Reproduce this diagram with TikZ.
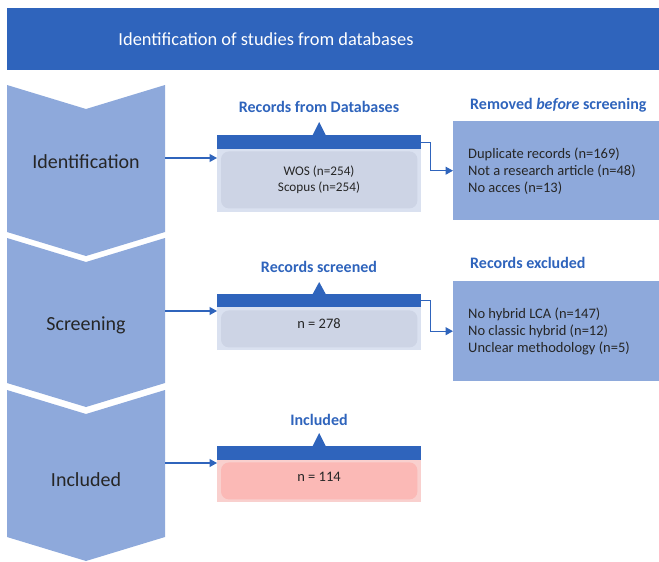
\documentclass[tikz,border=0pt]{standalone}
\usepackage{fontspec}
\setmainfont{Carlito}
\usetikzlibrary{arrows.meta}

\definecolor{darkblue}{HTML}{2F64BC}
\definecolor{chev}{HTML}{8EA9DB}
\definecolor{framebg}{HTML}{DAE1F0}
\definecolor{innerbg}{HTML}{CDD4E5}
\definecolor{pinkframe}{HTML}{F9D0CE}
\definecolor{pinkinner}{HTML}{FBB9B6}
\definecolor{ink}{HTML}{262626}

\tikzset{
  stagelabel/.style={minimum width=158pt, inner sep=0pt, text=ink,
    font=\fontsize{20}{23}\selectfont},
  outerframe/.style={fill=framebg, minimum width=204pt, inner sep=0pt, anchor=north west},
  topbar/.style={fill=darkblue, minimum width=204pt, minimum height=14pt, inner sep=0pt, anchor=north},
  heading/.style={text=darkblue, font=\fontsize{16}{19}\selectfont\bfseries, inner sep=0pt},
  boxtext/.style={text=ink, font=\fontsize{13.2}{16}\selectfont, align=center, inner sep=0pt},
  sidebox/.style={fill=chev, minimum width=206pt, inner sep=0pt, anchor=north west},
  sidetext/.style={text=ink, font=\fontsize{14.5}{17}\selectfont, align=left, inner sep=0pt, anchor=west},
  conn/.style={draw=darkblue, line width=1.2pt, -{Triangle[length=7.5pt, width=8pt]}},
}

\newcommand{\chevronshape}[2]{%
  \fill[chev] (7,#1) -- (86,#1+24) -- (165,#1) -- (165,#2) -- (86,#2+24) -- (7,#2) -- cycle;}

\begin{document}
\begin{tikzpicture}[x=1pt, y=-1pt]
\useasboundingbox (0,0) rectangle (659,562);

% title banner
\node[fill=darkblue, minimum width=652pt, minimum height=62pt, inner sep=0pt, anchor=north west] (banner) at (7,8) {};
\node[text=white, font=\fontsize{18.4}{22}\selectfont, inner sep=0pt] (title) at (266,39) {Identification of studies from databases};

% stage chevrons
\chevronshape{85}{232}
\chevronshape{238}{383}
\chevronshape{390}{537}
\node[stagelabel] (s1) at (86,162) {Identification};
\node[stagelabel] (s2) at (86,325) {Screening};
\node[stagelabel] (s3) at (86,480) {Included};

% --- stage 1 box
\node[outerframe, minimum height=77pt] (b1) at (217,135) {};
\node[topbar] (b1bar) at (b1.north) {};
\fill[darkblue] ([xshift=-6.5pt]b1bar.north) -- ++(6.5,-13) -- ++(6.5,13) -- cycle;
\fill[innerbg, rounded corners=8pt] ([xshift=4pt,yshift=-2pt]b1bar.south west) rectangle ([xshift=-4pt,yshift=4pt]b1.south east);
\node[heading] (h1) at (319,107) {Records from Databases};
\node[boxtext] (t1) at (319,180) {WOS (n=254)\\Scopus (n=254)};

% --- stage 2 box
\node[outerframe, minimum height=56pt] (b2) at (217,294) {};
\node[topbar, minimum height=13pt] (b2bar) at (b2.north) {};
\fill[darkblue] ([xshift=-6.5pt]b2bar.north) -- ++(6.5,-12) -- ++(6.5,12) -- cycle;
\fill[innerbg, rounded corners=8pt] ([xshift=4pt,yshift=-3pt]b2bar.south west) rectangle ([xshift=-4pt,yshift=3pt]b2.south east);
\node[heading] (h2) at (319,267) {Records screened};
\node[boxtext, font=\fontsize{14.5}{17}\selectfont] (t2) at (319,324) {n = 278};

% --- stage 3 box
\node[outerframe, fill=pinkframe, minimum height=56pt] (b3) at (217,446) {};
\node[topbar] (b3bar) at (b3.north) {};
\fill[darkblue] ([xshift=-6.5pt]b3bar.north) -- ++(6.5,-13) -- ++(6.5,13) -- cycle;
\fill[pinkinner, rounded corners=8pt] ([xshift=4pt,yshift=-2pt]b3bar.south west) rectangle ([xshift=-4pt,yshift=3pt]b3.south east);
\node[heading] (h3) at (319,420) {Included};
\node[boxtext, font=\fontsize{14.5}{17}\selectfont] (t3) at (319,477) {n = 114};

% --- exclusion boxes
\node[sidebox, minimum height=99pt] (r1) at (453,121) {};
\node[heading, anchor=west] (rh1) at (470,105) {Removed \textit{before} screening};
\node[sidetext] (rt1) at (468,171) {Duplicate records (n=169)\\Not a research article (n=48)\\No acces (n=13)};

\node[sidebox, minimum height=100pt] (r2) at (453,281) {};
\node[heading, anchor=west] (rh2) at (470,263) {Records excluded};
\node[sidetext] (rt2) at (468,331) {No hybrid LCA (n=147)\\No classic hybrid (n=12)\\Unclear methodology (n=5)};

% --- connectors
\coordinate (in1) at (217,158);
\coordinate (in2) at (217,311);
\coordinate (in3) at (217,463);
\draw[conn] (s1.east |- in1) -- (in1);
\draw[conn] (s2.east |- in2) -- (in2);
\draw[conn] (s3.east |- in3) -- (in3);
\draw[conn] (b1bar.east) -- ++(9,0) |- (r1.west);
\draw[conn] (b2bar.east) -- ++(9,0) |- (r2.west);
\end{tikzpicture}
\end{document}
